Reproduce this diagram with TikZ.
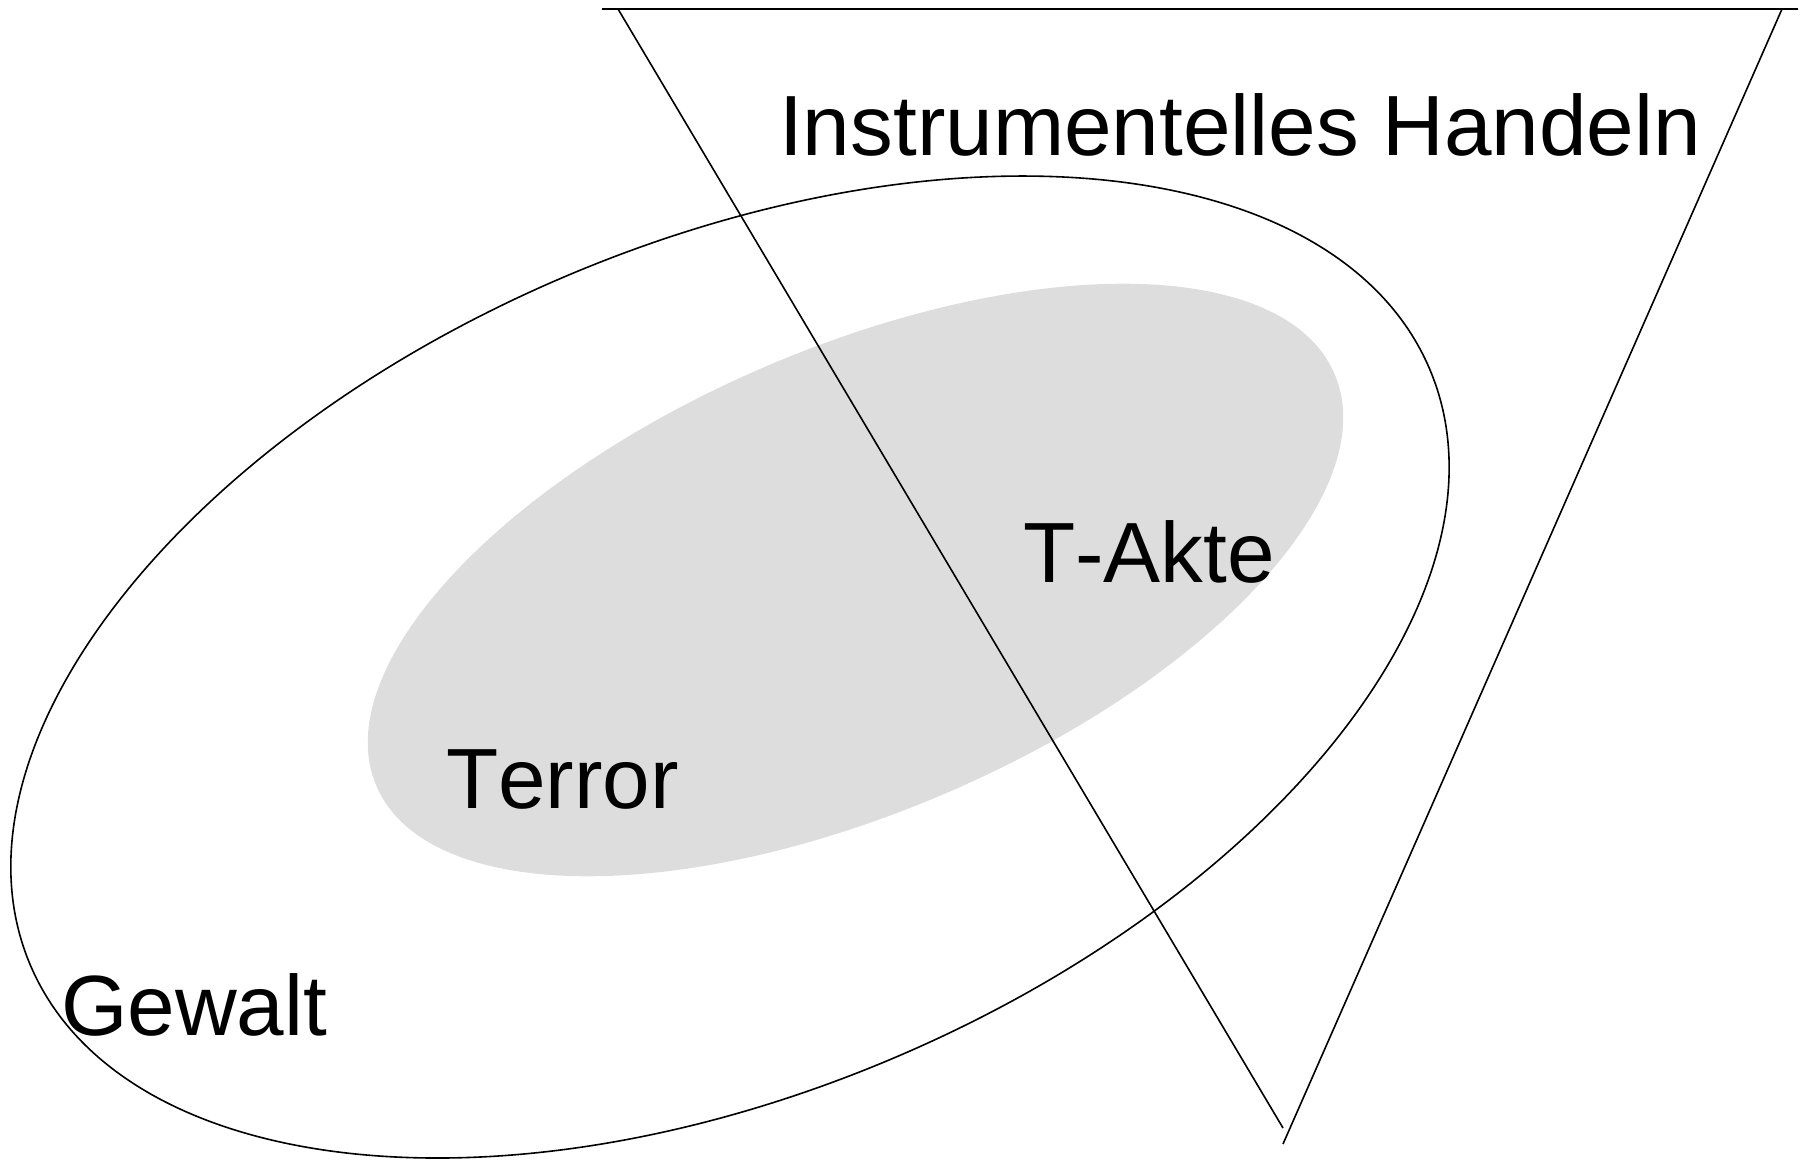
\documentclass[tikz,border=0pt]{standalone}
\usepackage{fontspec}
\setmainfont[Kerning=Off]{Liberation Sans}
\definecolor{setgray}{HTML}{DDDDDD}
\begin{document}
\begin{tikzpicture}[x=1pt,y=1pt,
  outline/.style={draw=black,line width=1.6pt},
  label/.style={anchor=base west,inner sep=0pt,font=\fontsize{85.5}{100}\selectfont}]
\useasboundingbox (0,0) rectangle (1803,1159);
% sets
\coordinate (inner) at (855.5,579);
\coordinate (outer) at (730,492);
\fill[setgray,rotate around={23.3:(inner)}] (inner) ellipse [x radius=521.5, y radius=231.6];
\draw[outline,rotate around={23.1:(outer)}] (outer) ellipse [x radius=760.5, y radius=423.9];
% instrumental action wedge
\coordinate (topL) at (602,1150);
\coordinate (topR) at (1798,1150);
\coordinate (legLa) at (618,1150);
\coordinate (legLb) at (1283,31);
\coordinate (legRa) at (1782,1150);
\coordinate (legRb) at (1283,15);
\draw[outline] (topL) -- (topR);
\draw[outline] (legLa) -- (legLb);
\draw[outline] (legRa) -- (legRb);
% labels
\node[label] (instr) at (779,1003) {Instrumentelles Handeln};
\node[label] (takte) at (1023,576) {T-Akte};
\node[label] (terror) at (446,350) {Terror};
\node[label] (gewalt) at (61,124) {Gewalt};
\end{tikzpicture}
\end{document}
